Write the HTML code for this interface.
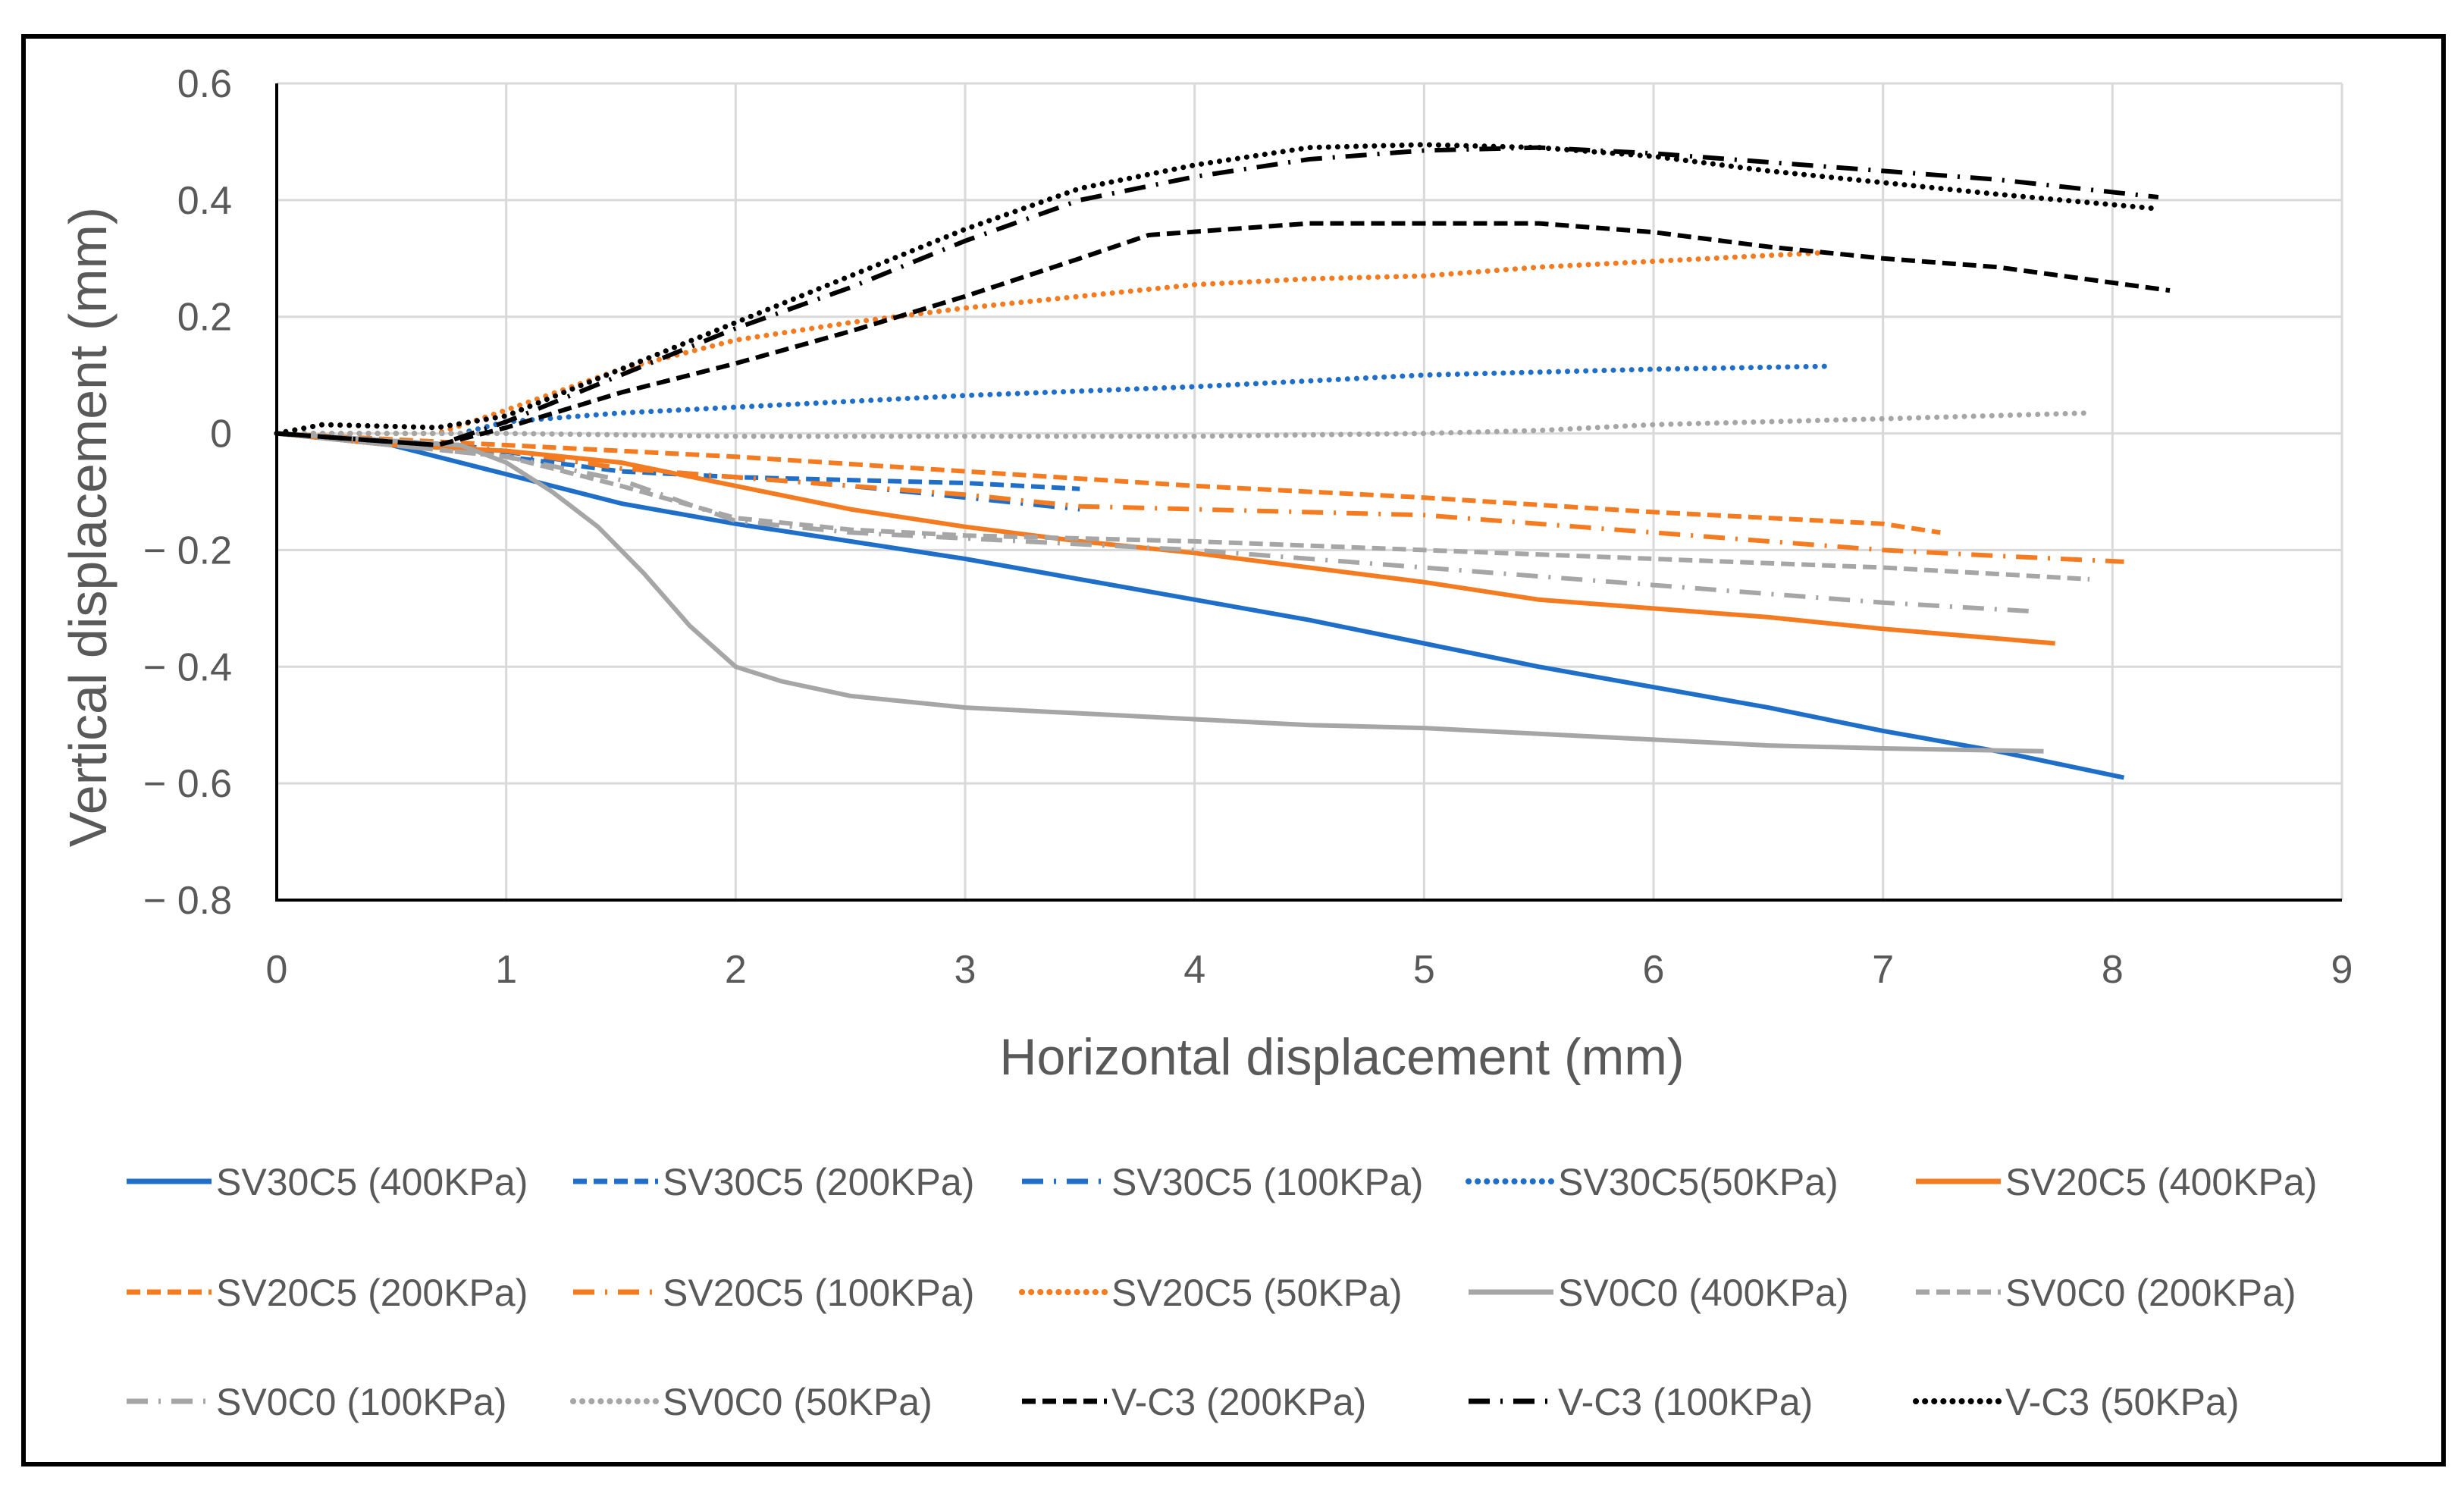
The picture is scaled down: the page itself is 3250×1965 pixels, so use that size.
<!DOCTYPE html>
<html><head><meta charset="utf-8"><style>
html,body{margin:0;padding:0;background:#fff}
svg{display:block}
text{font-family:"Liberation Sans",sans-serif;fill:#595959}
</style></head><body>
<svg id="chart" width="3250" height="1965" xmlns="http://www.w3.org/2000/svg">
<rect x="31" y="48" width="3192" height="1883" fill="#fff" stroke="#000" stroke-width="6"/>
<g id="grid"></g>
<g id="series"></g>
<g id="axes"></g>
<text x="1770" y="1417" font-size="68" text-anchor="middle">Horizontal displacement (mm)</text>
<text transform="translate(140,695) rotate(-90)" font-size="70" text-anchor="middle">Vertical displacement  (mm)</text>
<g id="legend"></g>
</svg>
<script>
const xTicks=[0,1,2,3,4,5,6,7,8,9];
const yTicks=[0.6,0.4,0.2,0,-0.2,-0.4,-0.6,-0.8];
const names=["SV30C5 (400KPa)","SV30C5 (200KPa)","SV30C5 (100KPa)","SV30C5(50KPa)","SV20C5 (400KPa)","SV20C5 (200KPa)","SV20C5 (100KPa)","SV20C5 (50KPa)","SV0C0 (400KPa)","SV0C0 (200KPa)","SV0C0 (100KPa)","SV0C0 (50KPa)","V-C3 (200KPa)","V-C3 (100KPa)","V-C3 (50KPa)"];
const s1x=[0,0.5,1,1.5,2,2.5,3,3.5,4,4.5,5,5.5,6,6.5,7,7.5,8.05];
const s1y=[0,-0.02,-0.07,-0.12,-0.155,-0.185,-0.215,-0.25,-0.285,-0.32,-0.36,-0.4,-0.435,-0.47,-0.51,-0.545,-0.59];
const s2x=[0,0.8,1,1.5,2,2.5,3,3.5];
const s2y=[0,-0.02,-0.04,-0.065,-0.075,-0.08,-0.085,-0.095];
const s3x=[0,0.8,1.5,2,2.5,3,3.5];
const s3y=[0,-0.02,-0.06,-0.075,-0.09,-0.11,-0.13];
const s4x=[0,0.8,1,1.5,2,3,4,5,6,6.75];
const s4y=[0,0,0.02,0.035,0.045,0.065,0.08,0.1,0.11,0.115];
const s5x=[0,0.5,1,1.5,2,2.5,3,3.5,4,4.5,5,5.5,6,6.5,7,7.75];
const s5y=[0,-0.02,-0.03,-0.05,-0.09,-0.13,-0.16,-0.185,-0.205,-0.23,-0.255,-0.285,-0.3,-0.315,-0.335,-0.36];
const s6x=[0,1,2,3,4,5,6,7,7.25];
const s6y=[0,-0.02,-0.04,-0.065,-0.09,-0.11,-0.135,-0.155,-0.17];
const s7x=[0,1,1.5,2,2.5,3,3.5,4,5,6,7,7.5,8.05];
const s7y=[0,-0.03,-0.06,-0.075,-0.09,-0.105,-0.125,-0.13,-0.14,-0.17,-0.2,-0.21,-0.22];
const s8x=[0,0.7,1,1.5,2,2.5,3,3.5,4,4.5,5,5.5,6,6.5,6.75];
const s8y=[0,0,0.04,0.11,0.16,0.19,0.215,0.235,0.255,0.265,0.27,0.285,0.295,0.305,0.31];
const s9x=[0,0.8,1,1.2,1.4,1.6,1.8,2,2.2,2.5,3,3.5,4,4.5,5,5.5,6,6.5,7,7.7];
const s9y=[0,-0.02,-0.05,-0.1,-0.16,-0.24,-0.33,-0.4,-0.425,-0.45,-0.47,-0.48,-0.49,-0.5,-0.505,-0.515,-0.525,-0.535,-0.54,-0.545];
const s10x=[0,1,1.5,2,2.5,3,4,5,6,7,7.9];
const s10y=[0,-0.04,-0.09,-0.145,-0.165,-0.175,-0.185,-0.2,-0.215,-0.23,-0.25];
const s11x=[0,1,1.5,2,2.5,3,4,5,6,7,7.65];
const s11y=[0,-0.04,-0.08,-0.15,-0.17,-0.18,-0.2,-0.23,-0.26,-0.29,-0.305];
const s12x=[0,1,2,3,4,5,5.5,6,7,7.9];
const s12y=[0,0,-0.005,-0.005,-0.005,0,0.005,0.015,0.025,0.035];
const s13x=[0,0.7,1,1.5,2,2.5,3,3.5,3.8,4.5,5.5,6,6.5,7,7.5,8.25];
const s13y=[0,-0.02,0.01,0.07,0.12,0.175,0.235,0.3,0.34,0.36,0.36,0.345,0.32,0.3,0.285,0.245];
const s14x=[0,0.7,1,1.5,2,2.5,3,3.5,4,4.5,5,5.5,6,6.5,7,7.5,8.2];
const s14y=[0,-0.02,0.02,0.1,0.18,0.25,0.33,0.4,0.44,0.47,0.485,0.49,0.48,0.465,0.45,0.435,0.405];
const s15x=[0,0.2,0.7,1,1.5,2,2.5,3,3.5,4,4.5,5,5.5,6,6.5,7,7.5,8.2];
const s15y=[0,0.015,0.01,0.03,0.11,0.19,0.27,0.35,0.42,0.46,0.49,0.495,0.49,0.475,0.45,0.43,0.41,0.385];

const NS="http://www.w3.org/2000/svg";
const L=365,R=3089,T=110,B=1187;
const xs=v=>L+(v-0)/(9-0)*(R-L);
const ys=v=>B-(v+0.8)/(1.4)*(B-T);
const blue="#1f6fc9",orange="#f47b20",gray="#a6a6a6",black="#000";
const styles=[[blue,"solid"],[blue,"dash"],[blue,"dashdot"],[blue,"dot"],[orange,"solid"],[orange,"dash"],[orange,"dashdot"],[orange,"dot"],[gray,"solid"],[gray,"dash"],[gray,"dashdot"],[gray,"dot"],[black,"dash"],[black,"dashdot"],[black,"dot"]];
const dashMap={solid:null,dash:"18 9",dashdot:"28 14 3 14",dot:"0.1 12"};
const data=[[s1x,s1y],[s2x,s2y],[s3x,s3y],[s4x,s4y],[s5x,s5y],[s6x,s6y],[s7x,s7y],[s8x,s8y],[s9x,s9y],[s10x,s10y],[s11x,s11y],[s12x,s12y],[s13x,s13y],[s14x,s14y],[s15x,s15y]];
function mk(tag,attrs,parent){const e=document.createElementNS(NS,tag);for(const k in attrs)e.setAttribute(k,attrs[k]);parent.appendChild(e);return e;}
const grid=document.getElementById('grid'),axes=document.getElementById('axes'),ser=document.getElementById('series'),leg=document.getElementById('legend');
xTicks.forEach(t=>{
 if(t>0){const g=mk('line',{x1:xs(t),x2:xs(t),y1:T,y2:B,stroke:"#d9d9d9","stroke-width":3},grid);
 
 }
 const tx=mk('text',{x:xs(t),y:1296,"font-size":52,"text-anchor":"middle"},axes);tx.textContent=t;
 
 
});
yTicks.forEach(t=>{
 const g=mk('line',{x1:L,x2:R,y1:ys(t),y2:ys(t),stroke:"#d9d9d9","stroke-width":3},grid);
 
 
 const tx=mk('text',{x:306,y:ys(t)+18,"font-size":52,"text-anchor":"end"},axes);
 tx.textContent=(t<0?"\u2212 "+Math.abs(t).toFixed(1):(t===0?"0":t.toFixed(1)));
 
 
});
const ax1=mk('line',{x1:L,x2:L,y1:T,y2:B+2,stroke:"#000","stroke-width":4},axes);


const ax2=mk('line',{x1:L-2,x2:R,y1:B,y2:B,stroke:"#000","stroke-width":4},axes);


data.forEach((d,i)=>{
 const pts=d[0].map((x,j)=>xs(x).toFixed(1)+","+ys(d[1][j]).toFixed(1)).join(" ");
 const st=styles[i],a={points:pts,fill:"none",stroke:st[0],"stroke-width":st[1]==="dot"?7:6,"stroke-linejoin":"round","stroke-linecap":st[1]==="dot"?"round":"butt"};
 if(dashMap[st[1]])a["stroke-dasharray"]=dashMap[st[1]];
 const p=mk('polyline',a,ser);
 
 
});
const colX=[167,756,1348,1937,2527],rowY=[1558,1704,1848];
names.forEach((n,i)=>{
 const c=i%5,r=Math.floor(i/5),x=colX[c],y=rowY[r],st=styles[i];
 const g=mk('g',{},leg);
 
 
 const a={x1:x,x2:x+112,y1:y,y2:y,stroke:st[0],"stroke-width":st[1]==="dot"?8:7,"stroke-linecap":st[1]==="dot"?"round":"butt"};
 if(dashMap[st[1]])a["stroke-dasharray"]=dashMap[st[1]];
 mk('line',a,g);
 const t=mk('text',{x:x+118,y:y+18,"font-size":50},g);t.textContent=n;
});
</script>
</body></html>
